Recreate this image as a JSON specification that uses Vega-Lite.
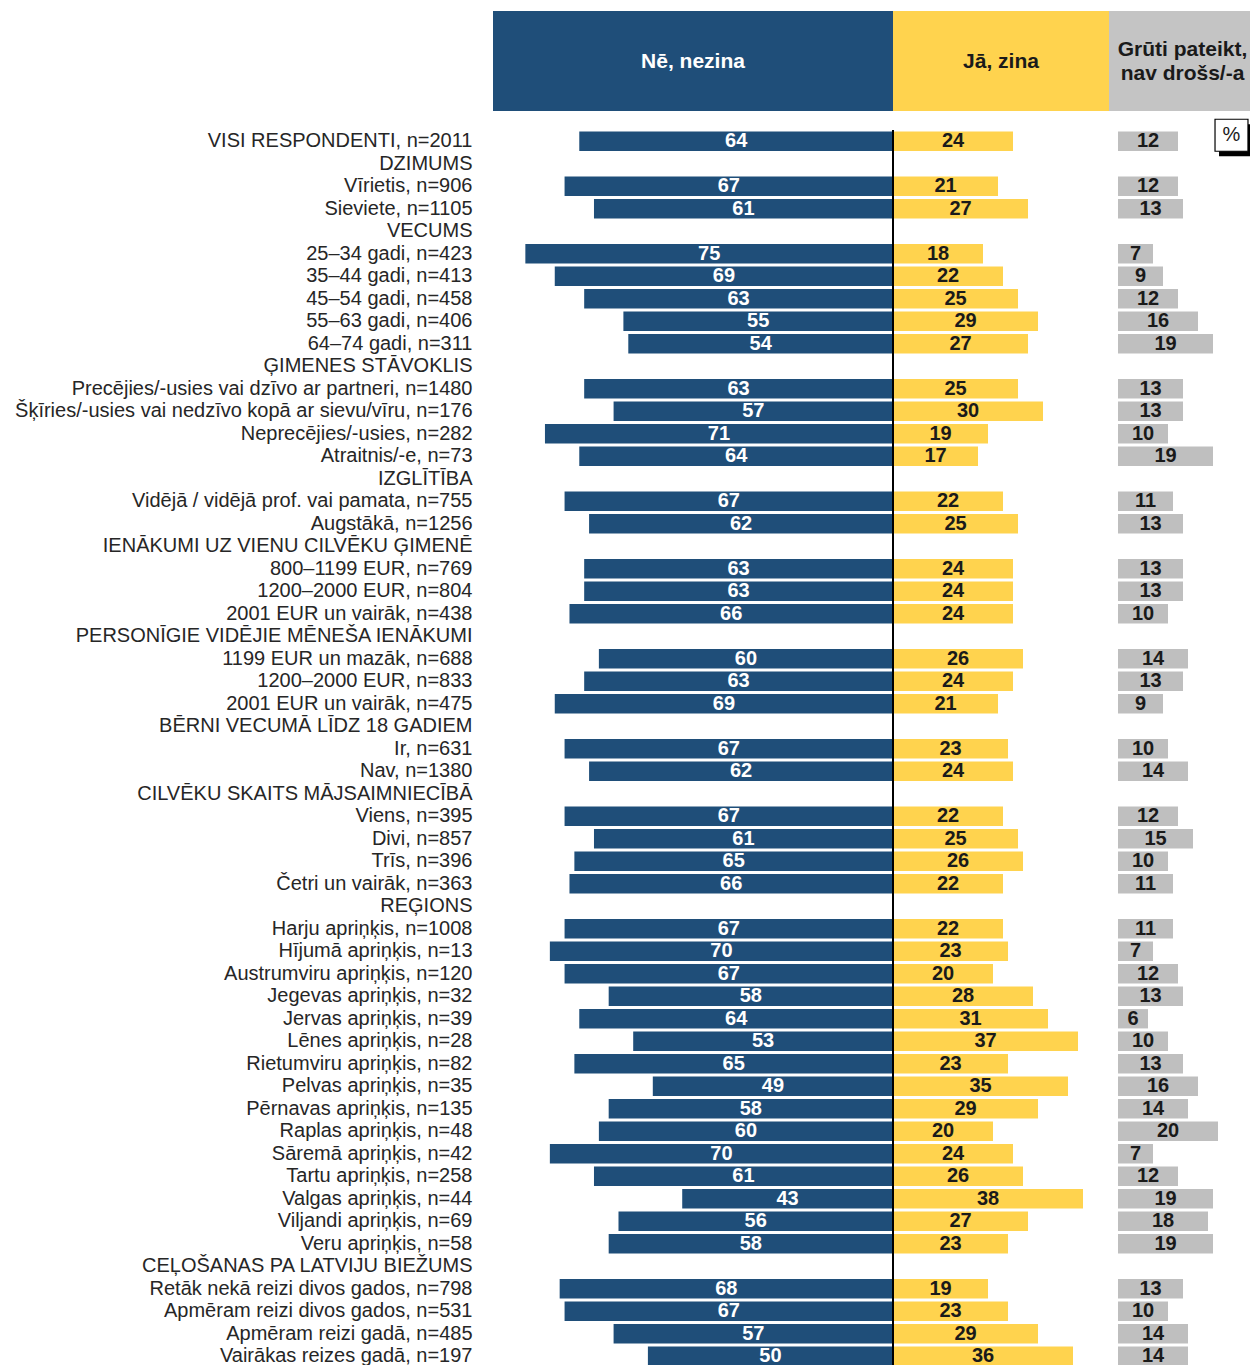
{
  "$schema": "https://vega.github.io/schema/vega-lite/v6.json",
  "padding": {"left": 14, "top": 11, "right": 0, "bottom": 0},
  "background": "white",
  "columns": 3,
  "spacing": {"row": 19, "column": 0},
  "bounds": "flush",
  "align": "each",
  "resolve": {"scale": {"x": "independent", "y": "independent"}},
  "datasets": {
    "rows": [
      {"l": "VISI RESPONDENTI, n=2011", "no": 64, "yes": 24, "dk": 12},
      {"l": "DZIMUMS"},
      {"l": "Vīrietis, n=906", "no": 67, "yes": 21, "dk": 12},
      {"l": "Sieviete, n=1105", "no": 61, "yes": 27, "dk": 13},
      {"l": "VECUMS"},
      {"l": "25–34 gadi, n=423", "no": 75, "yes": 18, "dk": 7},
      {"l": "35–44 gadi, n=413", "no": 69, "yes": 22, "dk": 9},
      {"l": "45–54 gadi, n=458", "no": 63, "yes": 25, "dk": 12},
      {"l": "55–63 gadi, n=406", "no": 55, "yes": 29, "dk": 16},
      {"l": "64–74 gadi, n=311", "no": 54, "yes": 27, "dk": 19},
      {"l": "ĢIMENES STĀVOKLIS"},
      {"l": "Precējies/-usies vai dzīvo ar partneri, n=1480", "no": 63, "yes": 25, "dk": 13},
      {"l": "Šķīries/-usies vai nedzīvo kopā ar sievu/vīru, n=176", "no": 57, "yes": 30, "dk": 13},
      {"l": "Neprecējies/-usies, n=282", "no": 71, "yes": 19, "dk": 10},
      {"l": "Atraitnis/-e, n=73", "no": 64, "yes": 17, "dk": 19},
      {"l": "IZGLĪTĪBA"},
      {"l": "Vidējā / vidējā prof. vai pamata, n=755", "no": 67, "yes": 22, "dk": 11},
      {"l": "Augstākā, n=1256", "no": 62, "yes": 25, "dk": 13},
      {"l": "IENĀKUMI UZ VIENU CILVĒKU ĢIMENĒ"},
      {"l": "800–1199 EUR, n=769", "no": 63, "yes": 24, "dk": 13},
      {"l": "1200–2000 EUR, n=804", "no": 63, "yes": 24, "dk": 13},
      {"l": "2001 EUR un vairāk, n=438", "no": 66, "yes": 24, "dk": 10},
      {"l": "PERSONĪGIE VIDĒJIE MĒNEŠA IENĀKUMI"},
      {"l": "1199 EUR un mazāk, n=688", "no": 60, "yes": 26, "dk": 14},
      {"l": "1200–2000 EUR, n=833", "no": 63, "yes": 24, "dk": 13},
      {"l": "2001 EUR un vairāk, n=475", "no": 69, "yes": 21, "dk": 9},
      {"l": "BĒRNI VECUMĀ LĪDZ 18 GADIEM"},
      {"l": "Ir, n=631", "no": 67, "yes": 23, "dk": 10},
      {"l": "Nav, n=1380", "no": 62, "yes": 24, "dk": 14},
      {"l": "CILVĒKU SKAITS MĀJSAIMNIECĪBĀ"},
      {"l": "Viens, n=395", "no": 67, "yes": 22, "dk": 12},
      {"l": "Divi, n=857", "no": 61, "yes": 25, "dk": 15},
      {"l": "Trīs, n=396", "no": 65, "yes": 26, "dk": 10},
      {"l": "Četri un vairāk, n=363", "no": 66, "yes": 22, "dk": 11},
      {"l": "REĢIONS"},
      {"l": "Harju apriņķis, n=1008", "no": 67, "yes": 22, "dk": 11},
      {"l": "Hījumā apriņķis, n=13", "no": 70, "yes": 23, "dk": 7},
      {"l": "Austrumviru apriņķis, n=120", "no": 67, "yes": 20, "dk": 12},
      {"l": "Jegevas apriņķis, n=32", "no": 58, "yes": 28, "dk": 13},
      {"l": "Jervas apriņķis, n=39", "no": 64, "yes": 31, "dk": 6},
      {"l": "Lēnes apriņķis, n=28", "no": 53, "yes": 37, "dk": 10},
      {"l": "Rietumviru apriņķis, n=82", "no": 65, "yes": 23, "dk": 13},
      {"l": "Pelvas apriņķis, n=35", "no": 49, "yes": 35, "dk": 16},
      {"l": "Pērnavas apriņķis, n=135", "no": 58, "yes": 29, "dk": 14},
      {"l": "Raplas apriņķis, n=48", "no": 60, "yes": 20, "dk": 20},
      {"l": "Sāremā apriņķis, n=42", "no": 70, "yes": 24, "dk": 7},
      {"l": "Tartu apriņķis, n=258", "no": 61, "yes": 26, "dk": 12},
      {"l": "Valgas apriņķis, n=44", "no": 43, "yes": 38, "dk": 19},
      {"l": "Viljandi apriņķis, n=69", "no": 56, "yes": 27, "dk": 18},
      {"l": "Veru apriņķis, n=58", "no": 58, "yes": 23, "dk": 19},
      {"l": "CEĻOŠANAS PA LATVIJU BIEŽUMS"},
      {"l": "Retāk nekā reizi divos gados, n=798", "no": 68, "yes": 19, "dk": 13},
      {"l": "Apmēram reizi divos gados, n=531", "no": 67, "yes": 23, "dk": 10},
      {"l": "Apmēram reizi gadā, n=485", "no": 57, "yes": 29, "dk": 14},
      {"l": "Vairākas reizes gadā, n=197", "no": 50, "yes": 36, "dk": 14}
    ]
  },
  "concat": [
    {
      "width": 400, "height": 100,
      "view": {"fill": "#1F4E79", "stroke": null},
      "data": {"values": [{"h": "Nē, nezina"}]},
      "mark": {"type": "text", "font": "Liberation Sans", "fontWeight": "bold", "fontSize": 21, "color": "#ffffff", "baseline": "middle", "align": "center", "dy": 1},
      "encoding": {"text": {"field": "h", "type": "nominal"}}
    },
    {
      "width": 216, "height": 100,
      "view": {"fill": "#FFD34E", "stroke": null},
      "data": {"values": [{"h": "Jā, zina"}]},
      "mark": {"type": "text", "font": "Liberation Sans", "fontWeight": "bold", "fontSize": 21, "color": "#1a1a1a", "baseline": "middle", "align": "center", "dy": 1},
      "encoding": {"text": {"field": "h", "type": "nominal"}}
    },
    {
      "width": 141, "height": 100,
      "view": {"fill": "#C4C4C4", "stroke": null},
      "data": {"values": [{"h": "Grūti pateikt,\nnav drošs/-a"}]},
      "mark": {"type": "text", "font": "Liberation Sans", "fontWeight": "bold", "fontSize": 21, "color": "#1a1a1a", "baseline": "middle", "align": "center", "lineBreak": "\n", "lineHeight": 24, "dx": 3, "dy": -11},
      "encoding": {"text": {"field": "h", "type": "nominal"}}
    },
    {
      "width": 400, "height": 1237.5,
      "data": {"name": "rows"},
      "transform": [{"calculate": "isValid(datum.no) ? datum.no / 2 : null", "as": "noMid"}],
      "encoding": {
        "y": {
          "field": "l", "type": "nominal",
          "scale": {"paddingInner": 0.14, "paddingOuter": 0.07, "domain": ["VISI RESPONDENTI, n=2011", "DZIMUMS", "Vīrietis, n=906", "Sieviete, n=1105", "VECUMS", "25–34 gadi, n=423", "35–44 gadi, n=413", "45–54 gadi, n=458", "55–63 gadi, n=406", "64–74 gadi, n=311", "ĢIMENES STĀVOKLIS", "Precējies/-usies vai dzīvo ar partneri, n=1480", "Šķīries/-usies vai nedzīvo kopā ar sievu/vīru, n=176", "Neprecējies/-usies, n=282", "Atraitnis/-e, n=73", "IZGLĪTĪBA", "Vidējā / vidējā prof. vai pamata, n=755", "Augstākā, n=1256", "IENĀKUMI UZ VIENU CILVĒKU ĢIMENĒ", "800–1199 EUR, n=769", "1200–2000 EUR, n=804", "2001 EUR un vairāk, n=438", "PERSONĪGIE VIDĒJIE MĒNEŠA IENĀKUMI", "1199 EUR un mazāk, n=688", "1200–2000 EUR, n=833", "2001 EUR un vairāk, n=475", "BĒRNI VECUMĀ LĪDZ 18 GADIEM", "Ir, n=631", "Nav, n=1380", "CILVĒKU SKAITS MĀJSAIMNIECĪBĀ", "Viens, n=395", "Divi, n=857", "Trīs, n=396", "Četri un vairāk, n=363", "REĢIONS", "Harju apriņķis, n=1008", "Hījumā apriņķis, n=13", "Austrumviru apriņķis, n=120", "Jegevas apriņķis, n=32", "Jervas apriņķis, n=39", "Lēnes apriņķis, n=28", "Rietumviru apriņķis, n=82", "Pelvas apriņķis, n=35", "Pērnavas apriņķis, n=135", "Raplas apriņķis, n=48", "Sāremā apriņķis, n=42", "Tartu apriņķis, n=258", "Valgas apriņķis, n=44", "Viljandi apriņķis, n=69", "Veru apriņķis, n=58", "CEĻOŠANAS PA LATVIJU BIEŽUMS", "Retāk nekā reizi divos gados, n=798", "Apmēram reizi divos gados, n=531", "Apmēram reizi gadā, n=485", "Vairākas reizes gadā, n=197"]},
          "axis": {"title": null, "domain": false, "ticks": false, "grid": false, "labelFont": "Liberation Sans", "labelFontSize": 20, "labelColor": "#262626", "labelPadding": 21, "labelLimit": 700}
        }
      },
      "layer": [
        {
          "mark": {"type": "bar", "color": "#1F4E79"},
          "encoding": {"x": {"field": "no", "type": "quantitative", "stack": null, "scale": {"domain": [0, 81.6], "reverse": true, "nice": false, "zero": true}, "axis": null}}
        },
        {
          "mark": {"type": "text", "font": "Liberation Sans", "fontWeight": "bold", "fontSize": 20, "color": "#ffffff", "baseline": "middle", "align": "center"},
          "encoding": {
            "x": {"field": "noMid", "type": "quantitative", "scale": {"domain": [0, 81.6], "reverse": true, "nice": false, "zero": true}, "axis": null},
            "text": {"field": "no", "type": "quantitative"}
          }
        }
      ]
    },
    {
      "width": 216, "height": 1237.5,
      "data": {"name": "rows"},
      "transform": [{"calculate": "isValid(datum.yes) ? datum.yes / 2 : null", "as": "yesMid"}],
      "layer": [
        {
          "encoding": {
            "y": {
              "field": "l", "type": "nominal", "axis": null,
              "scale": {"paddingInner": 0.14, "paddingOuter": 0.07, "domain": ["VISI RESPONDENTI, n=2011", "DZIMUMS", "Vīrietis, n=906", "Sieviete, n=1105", "VECUMS", "25–34 gadi, n=423", "35–44 gadi, n=413", "45–54 gadi, n=458", "55–63 gadi, n=406", "64–74 gadi, n=311", "ĢIMENES STĀVOKLIS", "Precējies/-usies vai dzīvo ar partneri, n=1480", "Šķīries/-usies vai nedzīvo kopā ar sievu/vīru, n=176", "Neprecējies/-usies, n=282", "Atraitnis/-e, n=73", "IZGLĪTĪBA", "Vidējā / vidējā prof. vai pamata, n=755", "Augstākā, n=1256", "IENĀKUMI UZ VIENU CILVĒKU ĢIMENĒ", "800–1199 EUR, n=769", "1200–2000 EUR, n=804", "2001 EUR un vairāk, n=438", "PERSONĪGIE VIDĒJIE MĒNEŠA IENĀKUMI", "1199 EUR un mazāk, n=688", "1200–2000 EUR, n=833", "2001 EUR un vairāk, n=475", "BĒRNI VECUMĀ LĪDZ 18 GADIEM", "Ir, n=631", "Nav, n=1380", "CILVĒKU SKAITS MĀJSAIMNIECĪBĀ", "Viens, n=395", "Divi, n=857", "Trīs, n=396", "Četri un vairāk, n=363", "REĢIONS", "Harju apriņķis, n=1008", "Hījumā apriņķis, n=13", "Austrumviru apriņķis, n=120", "Jegevas apriņķis, n=32", "Jervas apriņķis, n=39", "Lēnes apriņķis, n=28", "Rietumviru apriņķis, n=82", "Pelvas apriņķis, n=35", "Pērnavas apriņķis, n=135", "Raplas apriņķis, n=48", "Sāremā apriņķis, n=42", "Tartu apriņķis, n=258", "Valgas apriņķis, n=44", "Viljandi apriņķis, n=69", "Veru apriņķis, n=58", "CEĻOŠANAS PA LATVIJU BIEŽUMS", "Retāk nekā reizi divos gados, n=798", "Apmēram reizi divos gados, n=531", "Apmēram reizi gadā, n=485", "Vairākas reizes gadā, n=197"]}
            }
          },
          "layer": [
            {
              "mark": {"type": "bar", "color": "#FFD34E"},
              "encoding": {"x": {"field": "yes", "type": "quantitative", "stack": null, "scale": {"domain": [0, 43.2], "nice": false, "zero": true}, "axis": null}}
            },
            {
              "mark": {"type": "text", "font": "Liberation Sans", "fontWeight": "bold", "fontSize": 20, "color": "#1a1a1a", "baseline": "middle", "align": "center"},
              "encoding": {
                "x": {"field": "yesMid", "type": "quantitative", "scale": {"domain": [0, 43.2], "nice": false, "zero": true}, "axis": null},
                "text": {"field": "yes", "type": "quantitative"}
              }
            }
          ]
        },
        {
          "mark": {"type": "rule", "color": "#000000", "strokeWidth": 1.5},
          "encoding": {"x": {"datum": 0, "type": "quantitative", "scale": {"domain": [0, 43.2], "nice": false, "zero": true}, "axis": null}}
        }
      ]
    },
    {
      "width": 141, "height": 1237.5,
      "data": {"name": "rows"},
      "transform": [{"calculate": "isValid(datum.dk) ? datum.dk / 2 : null", "as": "dkMid"}],
      "layer": [
        {
          "encoding": {
            "y": {
              "field": "l", "type": "nominal", "axis": null,
              "scale": {"paddingInner": 0.14, "paddingOuter": 0.07, "domain": ["VISI RESPONDENTI, n=2011", "DZIMUMS", "Vīrietis, n=906", "Sieviete, n=1105", "VECUMS", "25–34 gadi, n=423", "35–44 gadi, n=413", "45–54 gadi, n=458", "55–63 gadi, n=406", "64–74 gadi, n=311", "ĢIMENES STĀVOKLIS", "Precējies/-usies vai dzīvo ar partneri, n=1480", "Šķīries/-usies vai nedzīvo kopā ar sievu/vīru, n=176", "Neprecējies/-usies, n=282", "Atraitnis/-e, n=73", "IZGLĪTĪBA", "Vidējā / vidējā prof. vai pamata, n=755", "Augstākā, n=1256", "IENĀKUMI UZ VIENU CILVĒKU ĢIMENĒ", "800–1199 EUR, n=769", "1200–2000 EUR, n=804", "2001 EUR un vairāk, n=438", "PERSONĪGIE VIDĒJIE MĒNEŠA IENĀKUMI", "1199 EUR un mazāk, n=688", "1200–2000 EUR, n=833", "2001 EUR un vairāk, n=475", "BĒRNI VECUMĀ LĪDZ 18 GADIEM", "Ir, n=631", "Nav, n=1380", "CILVĒKU SKAITS MĀJSAIMNIECĪBĀ", "Viens, n=395", "Divi, n=857", "Trīs, n=396", "Četri un vairāk, n=363", "REĢIONS", "Harju apriņķis, n=1008", "Hījumā apriņķis, n=13", "Austrumviru apriņķis, n=120", "Jegevas apriņķis, n=32", "Jervas apriņķis, n=39", "Lēnes apriņķis, n=28", "Rietumviru apriņķis, n=82", "Pelvas apriņķis, n=35", "Pērnavas apriņķis, n=135", "Raplas apriņķis, n=48", "Sāremā apriņķis, n=42", "Tartu apriņķis, n=258", "Valgas apriņķis, n=44", "Viljandi apriņķis, n=69", "Veru apriņķis, n=58", "CEĻOŠANAS PA LATVIJU BIEŽUMS", "Retāk nekā reizi divos gados, n=798", "Apmēram reizi divos gados, n=531", "Apmēram reizi gadā, n=485", "Vairākas reizes gadā, n=197"]}
            }
          },
          "layer": [
            {
              "mark": {"type": "bar", "color": "#BFBFBF"},
              "encoding": {"x": {"field": "dk", "type": "quantitative", "stack": null, "scale": {"domain": [-1.8, 26.4], "nice": false, "zero": false}, "axis": null}}
            },
            {
              "mark": {"type": "text", "font": "Liberation Sans", "fontWeight": "bold", "fontSize": 20, "color": "#1a1a1a", "baseline": "middle", "align": "center"},
              "encoding": {
                "x": {"field": "dkMid", "type": "quantitative", "scale": {"domain": [-1.8, 26.4], "nice": false, "zero": false}, "axis": null},
                "text": {"field": "dk", "type": "quantitative"}
              }
            },
            {
              "data": {"values": [{"l": "VISI RESPONDENTI, n=2011", "s": "%"}]},
              "mark": {"type": "point", "filled": true, "color": "#000000", "opacity": 1, "size": 1024, "shape": "M-0.78,-1.06 L1.28,-1.06 L1.28,0.94 L-0.78,0.94 Z"},
              "encoding": {"x": {"datum": 22.7, "type": "quantitative", "scale": {"domain": [-1.8, 26.4], "nice": false, "zero": false}, "axis": null}}
            },
            {
              "data": {"values": [{"l": "VISI RESPONDENTI, n=2011", "s": "%"}]},
              "mark": {"type": "point", "filled": true, "fill": "#ffffff", "stroke": "#000000", "strokeWidth": 1.2, "opacity": 1, "size": 1024, "shape": "M-1.03,-1.375 L1.03,-1.375 L1.03,0.625 L-1.03,0.625 Z"},
              "encoding": {"x": {"datum": 22.7, "type": "quantitative", "scale": {"domain": [-1.8, 26.4], "nice": false, "zero": false}, "axis": null}}
            },
            {
              "data": {"values": [{"l": "VISI RESPONDENTI, n=2011", "s": "%"}]},
              "mark": {"type": "text", "font": "Liberation Sans", "fontSize": 20, "color": "#1a1a1a", "baseline": "middle", "align": "center", "dy": -6},
              "encoding": {
                "x": {"datum": 22.7, "type": "quantitative", "scale": {"domain": [-1.8, 26.4], "nice": false, "zero": false}, "axis": null},
                "text": {"field": "s", "type": "nominal"}
              }
            }
          ]
        }
      ]
    }
  ],
  "config": {
    "view": {"stroke": null},
    "font": "Liberation Sans",
    "axis": {"labelFont": "Liberation Sans"}
  }
}
